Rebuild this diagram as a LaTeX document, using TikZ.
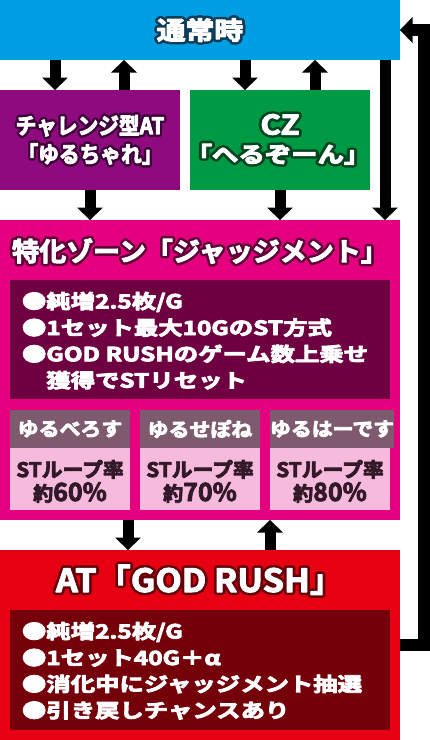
\documentclass[tikz,border=0pt]{standalone}
\usepackage{fontspec}
\usepackage{graphicx}
\setmainfont{Noto Sans CJK JP}[UprightFont={* Bold}]
\definecolor{cblue}{RGB}{0,158,226}
\definecolor{cpurple}{RGB}{142,10,126}
\definecolor{cgreen}{RGB}{0,153,68}
\definecolor{cpink}{RGB}{228,0,127}
\definecolor{cpinkdk}{RGB}{110,0,66}
\definecolor{chead}{RGB}{126,90,110}
\definecolor{clight}{RGB}{246,186,220}
\definecolor{cred}{RGB}{230,0,18}
\definecolor{creddk}{RGB}{116,0,10}
\definecolor{cdark}{RGB}{50,25,40}
% heavy text: fill plus a thin stroke of the same colour
\newcommand\heavy[3]{%
  \special{pdf:literal direct 2 Tr #2 w 1 j #1 RG}#3%
  \special{pdf:literal direct 0 Tr 0.4 w 0 j}}
% outlined text: a stroked dark copy behind, the white text in front
\newcommand\outl[2]{\leavevmode
  \rlap{\special{pdf:literal direct 1 Tr 6 w 1 j #1 RG}#2}%
  \special{pdf:literal direct 2 Tr 1 w 1 j 1 1 1 RG}#2%
  \special{pdf:literal direct 0 Tr 0.4 w 0 j}}
\def\oblue{0.05 0.24 0.35}
\def\opurple{0.24 0 0.22}
\def\ogreen{0 0.27 0.12}
\def\opink{0.37 0 0.22}
\def\ored{0.39 0 0.04}
\newcommand\sx[2]{\scalebox{#1}[1]{#2}}
\newcommand\fs[1]{\fontsize{#1}{#1}\selectfont}
\newcommand\bt[1]{\fs{19.5}\sx{1.25}{\heavy{1 1 1}{0.8}{#1}}}
\newcommand\dk[1]{\heavy{0.2 0.1 0.16}{0.8}{#1}}
\newcommand\arrdn[2]{\draw[shaft] (#1) -- ([yshift=11pt]#2); \fill (#2) -- ++(-13pt,12.5pt) -- ++(26pt,0pt) -- cycle;}
\newcommand\arrup[2]{\draw[shaft] (#1) -- ([yshift=-11pt]#2); \fill (#2) -- ++(-13pt,-12.5pt) -- ++(26pt,0pt) -- cycle;}
\tikzset{
  box/.style={draw=none, inner sep=0pt, outer sep=0pt, anchor=north west, text=white},
  shaft/.style={line width=11pt, black},
  txt/.style={inner sep=0pt, outer sep=0pt, anchor=base, text=white},
  bul/.style={inner sep=0pt, outer sep=0pt, anchor=base west, text=white},
}
\begin{document}
\begin{tikzpicture}[x=1pt,y=-1pt]
\useasboundingbox (0,0) rectangle (430,740);
% boxes
\node[box, fill=cblue, minimum width=400pt, minimum height=60pt, anchor=north west] (normal) at (0,0) {\fs{25}\sx{1.15}{\outl{\oblue}{通常時}}};
\node[box, fill=cpurple, minimum width=180pt, minimum height=100pt] (chal) at (0,90) {};
\node[box, fill=cgreen, minimum width=180pt, minimum height=100pt] (cz) at (190,90) {};
\node[box, fill=cpink, minimum width=400pt, minimum height=300pt] (judge) at (0,220) {};
\node[box, fill=cpinkdk, minimum width=380pt, minimum height=119pt] (jinfo) at (10,280) {};
\node[box, fill=chead, minimum width=120pt, minimum height=38pt] (h1) at (10,410) {\fs{19}\sx{1.1}{\heavy{1 1 1}{0.8}{ゆるべろす}}};
\node[box, fill=chead, minimum width=120pt, minimum height=38pt] (h2) at (140,410) {\fs{19}\sx{1.1}{\heavy{1 1 1}{0.8}{ゆるせぽね}}};
\node[box, fill=chead, minimum width=120pt, minimum height=38pt] (h3) at (270,410) {\fs{19}\sx{1.1}{\heavy{1 1 1}{0.8}{ゆるはーです}}};
\node[box, fill=clight, minimum width=120pt, minimum height=62pt] (p1) at (10,448) {};
\node[box, fill=clight, minimum width=120pt, minimum height=62pt] (p2) at (140,448) {};
\node[box, fill=clight, minimum width=120pt, minimum height=62pt] (p3) at (270,448) {};
\node[box, fill=cred, minimum width=400pt, minimum height=190pt] (at) at (0,550) {};
\node[box, fill=creddk, minimum width=380pt, minimum height=120pt] (ainfo) at (10,610) {};
% titles
\node[txt] (chal1) at (90,134) {\fs{22.5}\sx{0.92}{\outl{\opurple}{チャレンジ型AT}}};
\node[txt] (chal2) at (90,162.5) {\fs{22.5}\sx{0.92}{\outl{\opurple}{「ゆるちゃれ」}}};
\node[txt] (cz1) at (280,134.5) {\fs{27}\sx{1.15}{\outl{\ogreen}{CZ}}};
\node[txt] (cz2) at (278,162.5) {\fs{22}\sx{1.2}{\outl{\ogreen}{「へるぞーん」}}};
\node[txt] (jtitle) at (200,261) {\fs{26}\sx{1.04}{\outl{\opink}{特化ゾーン「ジャッジメント」}}};
\node[txt] (atitle) at (200,592) {\fs{32}\sx{1.07}{\outl{\ored}{AT「GOD RUSH」}}};
% bullets
\node[bul] (j1) at (22,308.5) {\bt{●純増2.5枚/G}};
\node[bul] (j2) at (22,335) {\bt{●1セット最大10GのST方式}};
\node[bul] (j3) at (22,361.3) {\bt{●GOD RUSHのゲーム数上乗せ}};
\node[bul] (j4) at (22,387.6) {\bt{\phantom{●}獲得でSTリセット}};
\node[bul] (a1) at (22,638.5) {\bt{●純増2.5枚/G}};
\node[bul] (a2) at (22,665) {\bt{●1セット40G＋α}};
\node[bul] (a3) at (22,691.3) {\bt{●消化中にジャッジメント抽選}};
\node[bul] (a4) at (22,717.6) {\bt{●引き戻しチャンスあり}};
% sub boxes text
\node[txt, text=cdark] (q1a) at (70,477) {\fs{20}\sx{1.04}{\dk{STループ率}}};
\node[txt, text=cdark] (q1b) at (70,501) {\dk{\fs{20}約\fs{25}60\%}};
\node[txt, text=cdark] (q2a) at (200,477) {\fs{20}\sx{1.04}{\dk{STループ率}}};
\node[txt, text=cdark] (q2b) at (200,501) {\dk{\fs{20}約\fs{25}70\%}};
\node[txt, text=cdark] (q3a) at (330,477) {\fs{20}\sx{1.04}{\dk{STループ率}}};
\node[txt, text=cdark] (q3b) at (330,501) {\dk{\fs{20}約\fs{25}80\%}};
% arrow coordinates
\coordinate (d1s) at ([xshift=55pt]normal.south west);
\coordinate (d1e) at ([xshift=55pt]chal.north west);
\coordinate (u1s) at ([xshift=124pt]chal.north west);
\coordinate (u1e) at ([xshift=124pt]normal.south west);
\coordinate (d2s) at ([xshift=245pt]normal.south west);
\coordinate (d2e) at ([xshift=55pt]cz.north west);
\coordinate (u2s) at ([xshift=125pt]cz.north west);
\coordinate (u2e) at ([xshift=315pt]normal.south west);
\coordinate (d3s) at ([xshift=90pt]chal.south west);
\coordinate (d3e) at ([xshift=90pt]judge.north west);
\coordinate (d4s) at ([xshift=90pt]cz.south west);
\coordinate (d4e) at ([xshift=280pt]judge.north west);
\coordinate (d5s) at ([xshift=385pt]normal.south west);
\coordinate (d5e) at ([xshift=385pt]judge.north west);
\coordinate (d6s) at ([xshift=128pt]judge.south west);
\coordinate (d6e) at ([xshift=128pt]at.north west);
\coordinate (u3s) at ([xshift=270pt]at.north west);
\coordinate (u3e) at ([xshift=270pt]judge.south west);
\coordinate (rt) at (424,30);
\arrdn{d1s}{d1e}
\arrup{u1s}{u1e}
\arrdn{d2s}{d2e}
\arrup{u2s}{u2e}
\arrdn{d3s}{d3e}
\arrdn{d4s}{d4e}
\arrdn{d5s}{d5e}
\arrdn{d6s}{d6e}
\arrup{u3s}{u3e}
\draw[line width=12pt, line join=miter, black] (at.east) -| (rt) -- ([xshift=11pt]normal.east);
\fill (normal.east) -- ++(12.5pt,13pt) -- ++(0pt,-26pt) -- cycle;
\end{tikzpicture}
\end{document}
